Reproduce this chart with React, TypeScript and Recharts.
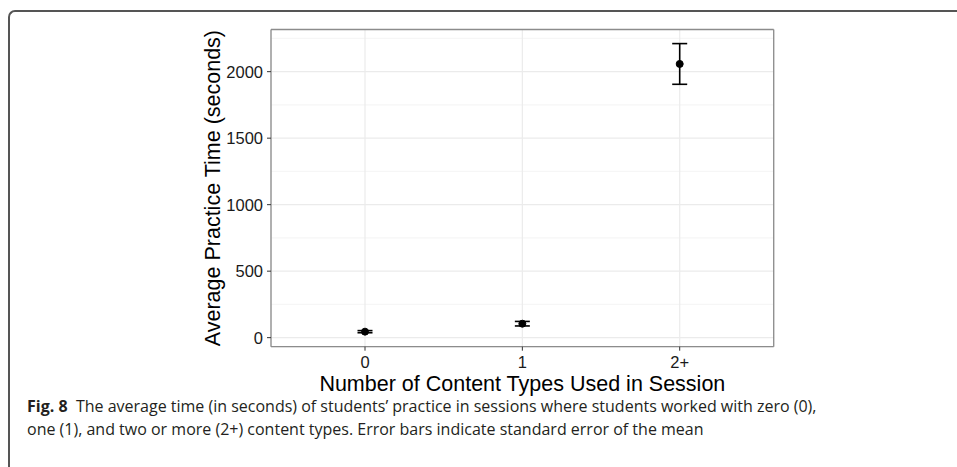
import { ComposedChart, Line, ErrorBar, XAxis, YAxis, CartesianGrid } from "recharts";

// number of content types used in a session
const contentTypes = ["0", "1", "2+"];
// average practice time (seconds) and its standard error
const meanTime = [45, 105, 2058];
const stdError = [8, 17, 153];

const yTicks = [0, 500, 1000, 1500, 2000];
const yMinorTicks = [250, 750, 1250, 1750, 2250];

const data = contentTypes.map((type, i) => ({
  type,
  mean: meanTime[i],
  se: stdError[i],
}));

const yDomain: [number, number] = [-68, 2317];
const borderColor = "#8c8c8c";

export default function App() {
  return (
    <div
      style={{
        position: "absolute",
        left: 0,
        top: 0,
        width: 957,
        height: 467,
        background: "#fff",
        overflow: "hidden",
        fontFamily: "'Liberation Sans', Arial, sans-serif",
      }}
    >
      {/* figure frame: left and top rule with a rounded corner */}
      <div
        style={{
          position: "absolute",
          left: 8,
          top: 10,
          width: 980,
          height: 500,
          borderLeft: "2px solid #555",
          borderTop: "2px solid #555",
          borderTopLeftRadius: 7,
        }}
      />
      <div style={{ position: "absolute", left: 0, top: 0 }}>
        <ComposedChart
          width={957}
          height={467}
          data={data}
          margin={{ top: 28.5, right: 182.3, bottom: 76.3, left: 201 }}
        >
          <CartesianGrid horizontalValues={yMinorTicks} vertical={false} stroke="#f6f6f6" strokeWidth={1.2} />
          <CartesianGrid stroke="#ebebeb" strokeWidth={1.2} />
          <XAxis
            dataKey="type"
            scale="point"
            padding={{ left: 94, right: 94 }}
            height={44}
            tickSize={4}
            tickMargin={6}
            tick={{ fill: "#1a1a1a", fontSize: 16.5 }}
            tickLine={{ stroke: "#333" }}
            axisLine={{ stroke: borderColor, strokeWidth: 1.3 }}
            label={{
              value: "Number of Content Types Used in Session",
              position: "insideBottom",
              offset: 0,
              fill: "#000",
              fontSize: 21.5,
            }}
          />
          {/* top and right axes only draw the rest of the panel border */}
          <XAxis
            xAxisId="top"
            orientation="top"
            dataKey="type"
            scale="point"
            padding={{ left: 94, right: 94 }}
            height={1}
            tick={false}
            tickLine={false}
            axisLine={{ stroke: borderColor, strokeWidth: 1.3 }}
          />
          <YAxis
            domain={yDomain}
            ticks={yTicks}
            allowDataOverflow
            width={70}
            tickSize={4}
            tickMargin={4}
            tick={{ fill: "#1a1a1a", fontSize: 16.5 }}
            tickLine={{ stroke: "#333" }}
            axisLine={{ stroke: borderColor, strokeWidth: 1.3 }}
            label={{
              value: "Average Practice Time (seconds)",
              angle: -90,
              position: "insideLeft",
              offset: 11,
              fill: "#000",
              fontSize: 21.5,
              style: { textAnchor: "middle" },
            }}
          />
          <YAxis
            yAxisId="right"
            orientation="right"
            domain={yDomain}
            allowDataOverflow
            width={1}
            tick={false}
            tickLine={false}
            axisLine={{ stroke: borderColor, strokeWidth: 1.3 }}
          />
          <Line
            xAxisId="top"
            yAxisId="right"
            dataKey="mean"
            stroke="none"
            dot={false}
            activeDot={false}
            legendType="none"
            isAnimationActive={false}
          />
          <Line
            dataKey="mean"
            stroke="none"
            dot={{ r: 3.5, fill: "#000", stroke: "#000", strokeWidth: 1 }}
            activeDot={false}
            isAnimationActive={false}
          >
            <ErrorBar dataKey="se" direction="y" width={7.5} stroke="#000" strokeWidth={1.6} />
          </Line>
        </ComposedChart>
      </div>
      <div
        style={{
          position: "absolute",
          left: 27,
          top: 395,
          fontFamily: "'Open Sans', sans-serif",
          fontSize: 16,
          lineHeight: "22.5px",
          color: "#231f20",
          whiteSpace: "nowrap",
        }}
      >
        <b>Fig. 8</b>&nbsp; The average time (in seconds) of students’ practice in sessions where students worked with zero (0),
        <br />
        one (1), and two or more (2+) content types. Error bars indicate standard error of the mean
      </div>
    </div>
  );
}
